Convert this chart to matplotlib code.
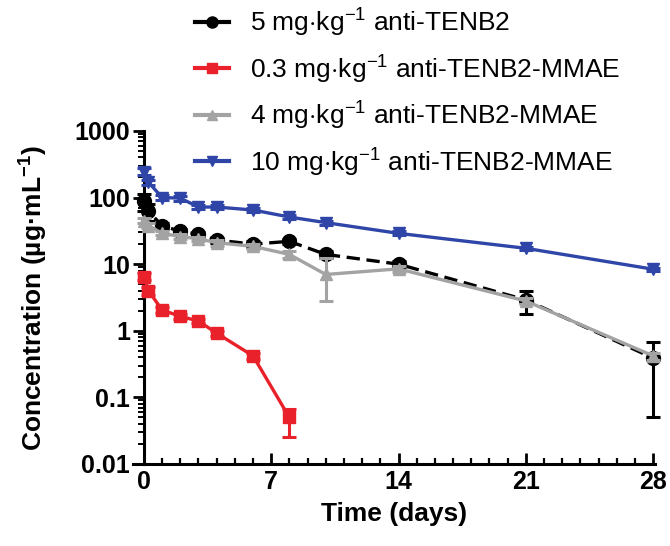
import numpy as np
import matplotlib.pyplot as plt
from matplotlib.lines import Line2D
from matplotlib.ticker import FixedLocator, LogLocator, FuncFormatter, MultipleLocator, NullFormatter

plt.rcParams['font.family'] = ['Liberation Sans', 'DejaVu Sans']
plt.rcParams['mathtext.fontset'] = 'custom'
plt.rcParams['mathtext.rm'] = 'Liberation Sans'
plt.rcParams['mathtext.bf'] = 'Liberation Sans:bold'

# sampling times (days)
t_full = [0.02, 0.25, 1, 2, 3, 4, 6, 8, 10, 14, 21, 28]
t_red = [0.02, 0.25, 1, 2, 3, 4, 6, 8]

# concentrations (ug/mL)
black = [88, 62, 38, 31, 28, 23, 20, 22, 14, 10, 2.9, 0.39]
black_lo = [25, 18, 4, 3, 2, 2, 2, 2, 1.5, 1, 1.1, 0.34]
black_hi = [25, 18, 4, 3, 2, 2, 2, 2, 1.5, 1, 1.0, 0.30]

red = [6.5, 4.0, 2.05, 1.65, 1.4, 0.92, 0.42, 0.05]
red_lo = [0.8, 0.5, 0.2, 0.15, 0.1, 0.08, 0.04, 0.025]
red_hi = [0.8, 0.5, 0.2, 0.15, 0.1, 0.08, 0.04, 0.016]

gray = [45, 38, 29, 26, 24, 21, 18.5, 14, 7, 8.5, 2.8, 0.42]
gray_lo = [4, 3, 2, 2, 2, 2, 1.5, 1.5, 4.2, 1, 0.3, 0.05]
gray_hi = [4, 3, 2, 2, 2, 2, 1.5, 1.5, 5.5, 1, 0.3, 0.05]

blue = [245, 170, 100, 98, 72, 72, 65, 51, 42, 29, 17.3, 8.4]
blue_lo = [30, 15, 8, 8, 5, 5, 4, 3, 3, 2, 1, 0.5]
blue_hi = [30, 15, 8, 8, 5, 5, 4, 3, 3, 2, 1, 0.5]

labels = [r'5 mg$\cdot$kg$^{-1}$ anti-TENB2',
          r'0.3 mg$\cdot$kg$^{-1}$ anti-TENB2-MMAE',
          r'4 mg$\cdot$kg$^{-1}$ anti-TENB2-MMAE',
          r'10 mg$\cdot$kg$^{-1}$ anti-TENB2-MMAE']

fig = plt.figure(figsize=(6.7, 5.46), dpi=100)
ax = fig.add_axes([0.1985, 0.1502, 0.779, 0.610])

lw = 2.4
eb = dict(capsize=5, elinewidth=2.2, capthick=2.2, clip_on=False)
ax.errorbar(t_full, black, yerr=[black_lo, black_hi], color='black', marker='o',
            ms=10, lw=lw, ls=(0, (4, 2)), zorder=3, **eb)
ax.errorbar(t_red, red, yerr=[red_lo, red_hi], color='#e8212a', marker='s',
            ms=9, lw=lw, zorder=4, **eb)
ax.errorbar(t_full, gray, yerr=[gray_lo, gray_hi], color='#a3a3a3', marker='^',
            ms=9, lw=lw, zorder=4, **eb)
ax.errorbar(t_full, blue, yerr=[blue_lo, blue_hi], color='#2f45a8', marker='v',
            ms=9, lw=lw, zorder=5, **eb)

# legend handles: plain line + marker, no error bar
handles = [Line2D([], [], color='black', marker='o', ms=8, lw=3),
           Line2D([], [], color='#e8212a', marker='s', ms=7, lw=3),
           Line2D([], [], color='#a3a3a3', marker='^', ms=7, lw=3),
           Line2D([], [], color='#2f45a8', marker='v', ms=7, lw=3)]

ax.set_yscale('log')
ax.set_ylim(0.01, 1000)
ax.set_xlim(-0.6, 28.1)

ax.spines['top'].set_visible(False)
ax.spines['right'].set_visible(False)
ax.spines['left'].set_position(('data', 0))
ax.spines['left'].set_linewidth(2.2)
ax.spines['bottom'].set_linewidth(2.2)

ax.xaxis.set_major_locator(FixedLocator([0, 7, 14, 21, 28]))
ax.xaxis.set_minor_locator(MultipleLocator(1))
ax.yaxis.set_major_locator(FixedLocator([0.01, 0.1, 1, 10, 100, 1000]))
ax.yaxis.set_minor_locator(LogLocator(base=10, subs=np.arange(2, 10)))
ax.yaxis.set_minor_formatter(NullFormatter())
ax.yaxis.set_major_formatter(FuncFormatter(lambda v, p: ('%g' % v)))

ax.tick_params(axis='x', which='major', direction='in', length=8, width=2, labelsize=18, pad=4)
ax.tick_params(axis='x', which='minor', direction='in', length=4, width=1.6)
ax.tick_params(axis='y', which='major', direction='out', length=8, width=2, labelsize=18, pad=2)
ax.tick_params(axis='y', which='minor', direction='out', length=4, width=1.4)
for lab in ax.get_xticklabels() + ax.get_yticklabels():
    lab.set_fontweight('bold')

ax.set_xlabel('Time (days)', fontsize=19, fontweight='bold', labelpad=6)
ax.set_ylabel(r'Concentration (µg·mL$^{\mathbf{-1}}$)', fontsize=19, fontweight='bold', labelpad=4)
ax.yaxis.set_label_coords(-0.16, 0.5)

fig.legend(handles, labels, loc='upper left', bbox_to_anchor=(0.283, 1.0),
           frameon=False, fontsize=19, handlelength=1.3, handletextpad=0.8,
           labelspacing=0.52, borderpad=0.2, borderaxespad=0)

fig.savefig('out.png', dpi=100)
